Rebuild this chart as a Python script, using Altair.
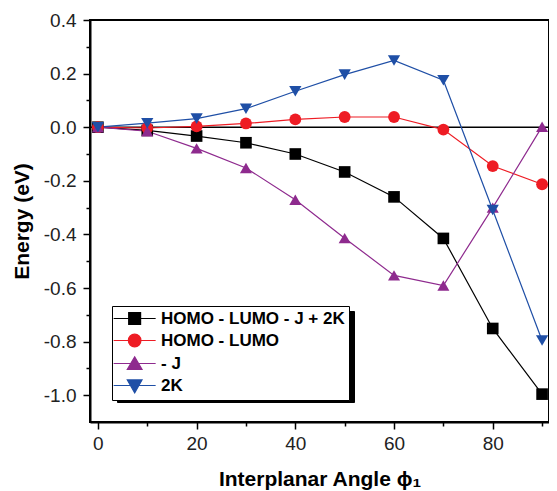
import altair as alt
import pandas as pd

# energies (eV), one list per curve
angles = [0, 10, 20, 30, 40, 50, 60, 70, 80, 90]
series = ["HOMO - LUMO - J + 2K", "HOMO - LUMO", "- J", "2K"]
total = [0.0, -0.012, -0.033, -0.058, -0.100, -0.167, -0.260, -0.415, -0.751, -0.996]
homo_lumo = [0.0, -0.003, 0.003, 0.014, 0.029, 0.038, 0.038, -0.009, -0.145, -0.213]
minus_j = [0.0, -0.015, -0.079, -0.152, -0.271, -0.414, -0.553, -0.591, -0.300, 0.002]
two_k = [0.0, 0.015, 0.032, 0.069, 0.134, 0.196, 0.249, 0.175, -0.309, -0.796]

colors = ["#000000", "#ee1c24", "#8e2a8e", "#1f4fa6"]
marker_shapes = ["square", "circle", "triangle-up", "triangle-down"]
marker_sizes = [135, 150, 200, 190]

# legend glyphs: a short line with the marker in the middle
# (shifted right so the line starts at the legend's left edge)
legend_paths = [
    "M-1.55,0L4.45,0M0.6,-0.85L2.3,-0.85L2.3,0.85L0.6,0.85Z",
    "M-1.55,0L4.45,0M2.35,0A0.9,0.9,0,1,1,0.55,0A0.9,0.9,0,1,1,2.35,0Z",
    "M-1.55,0L4.45,0M1.45,-0.95L2.5,0.85L0.4,0.85Z",
    "M-1.55,0L4.45,0M1.45,1.05L2.5,-0.8L0.4,-0.8Z",
]

rows = []
for name, vals in zip(series, [total, homo_lumo, minus_j, two_k]):
    for a, v in zip(angles, vals):
        rows.append({"angle": a, "energy": v, "series": name})
df = pd.DataFrame(rows)

FONT = "Liberation Sans"

x_axis = alt.Axis(
    values=angles,
    tickSize=alt.condition("datum.value % 20 == 0", alt.value(7), alt.value(4)),
    labelExpr="datum.value % 20 == 0 ? datum.label : ''",
    labelPadding=5,
    titlePadding=15,
)
y_axis = alt.Axis(
    values=[round(-1.0 + 0.1 * i, 1) for i in range(15)],
    tickSize=alt.condition("abs(round(datum.value * 10)) % 2 == 0", alt.value(7), alt.value(4)),
    labelExpr="abs(round(datum.value * 10)) % 2 == 0 ? "
              "((datum.value < -0.001 ? '-' : '') + format(abs(datum.value), '.1f')) : ''",
    labelPadding=7,
    titlePadding=11,
)

x = alt.X("angle:Q", title="Interplanar Angle ϕ₁",
          scale=alt.Scale(domain=[-1.6, 91.4], nice=False, zero=False), axis=x_axis)
y = alt.Y("energy:Q", title="Energy (eV)",
          scale=alt.Scale(domain=[-1.1, 0.4], nice=False, zero=False), axis=y_axis)

color_scale = alt.Scale(domain=series, range=colors)

lines = alt.Chart(df).mark_line(strokeWidth=1.2).encode(
    x=x, y=y, color=alt.Color("series:N", scale=color_scale, legend=None)
)

points = alt.Chart(df).mark_point(filled=True, opacity=1).encode(
    x=x, y=y,
    color=alt.Color("series:N", scale=color_scale, legend=None),
    shape=alt.Shape("series:N", scale=alt.Scale(domain=series, range=marker_shapes), legend=None),
    size=alt.Size("series:N", scale=alt.Scale(domain=series, range=marker_sizes), legend=None),
)

zero_line = alt.Chart(pd.DataFrame({"energy": [0.0]})).mark_rule(
    color="black", strokeWidth=1.5
).encode(y=y)


def legend_layer(dx, dy, box_fill, symbol_opacity, z):
    leg = alt.Legend(
        orient="none", legendX=22 + dx, legendY=286 + dy, title=None,
        labelFont=FONT, labelFontSize=17, labelFontWeight="bold", labelColor="black",
        labelLimit=400, labelExpr="datum.label + ' '",
        symbolSize=196, symbolStrokeWidth=1.2, symbolOpacity=symbol_opacity,
        labelOffset=28, rowPadding=4, padding=4,
        fillColor=box_fill, strokeColor="black", cornerRadius=0, zindex=z,
    )
    return alt.Chart(df).mark_point(filled=True, opacity=0).encode(
        x=x, y=y,
        fill=alt.Fill("series:N", scale=color_scale, legend=leg),
        stroke=alt.Stroke("series:N", scale=color_scale, legend=leg),
        shape=alt.Shape("series:N", scale=alt.Scale(domain=series, range=legend_paths), legend=leg),
    )


shadow = legend_layer(5, 5, "black", 0, 1)
legend = legend_layer(0, 0, "white", 1, 2)

chart = alt.layer(zero_line, lines, points, shadow, legend).resolve_scale(
    shape="independent", size="independent"
).resolve_legend(
    fill="independent", stroke="independent", shape="independent"
).properties(
    width=459, height=402,
    autosize=alt.AutoSizeParams(type="none"),
    padding={"left": 82, "top": 12, "right": 0, "bottom": 78},
).configure_view(
    stroke="black", strokeWidth=2
).configure_axis(
    grid=False,
    domainColor="black", domainWidth=2,
    tickColor="black", tickWidth=1.5,
    labelFont=FONT, labelFontSize=19, labelColor="#222222",
    titleFont=FONT, titleFontSize=21, titleFontWeight="bold", titleColor="black",
)

chart.save("out.html", embed_options={"renderer": "svg", "actions": False})
